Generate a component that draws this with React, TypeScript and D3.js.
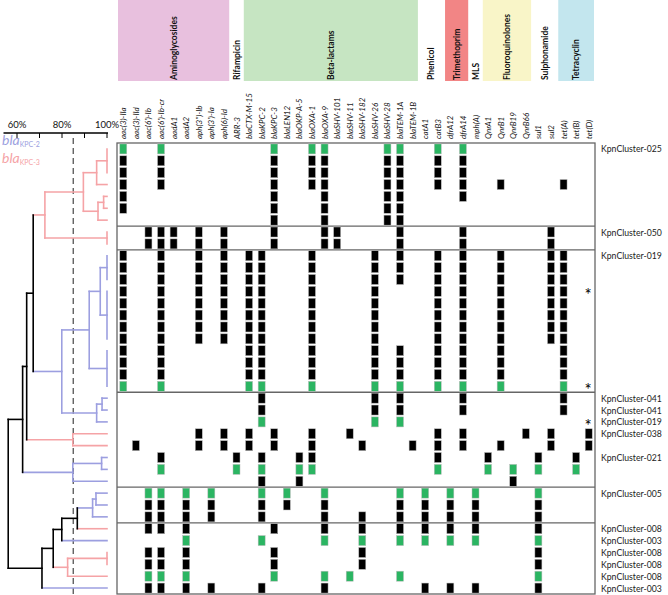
import React from 'react';
import * as d3 from 'd3';

// resistance genes, one column each
const genes = [
  'aac(3)-IIa', 'aac(3)-IId', "aac(6')-Ib", "aac(6')-Ib-cr", 'aadA1', 'aadA2', "aph(3'')-Ib", "aph(3')-Ia", 'aph(6)-Id',
  'ARR-3',
  'blaCTX-M-15', 'blaKPC-2', 'blaKPC-3', 'blaLEN12', 'blaOKP-A-5', 'blaOXA-1', 'blaOXA-9', 'blaSHV-101', 'blaSHV-11',
  'blaSHV-182', 'blaSHV-26', 'blaSHV-28', 'blaTEM-1A', 'blaTEM-1B',
  'catA1', 'catB3',
  'dfrA12', 'dfrA14',
  'mph(A)',
  'QnrA1', 'QnrB1', 'QnrB19', 'QnrB66',
  'sul1', 'sul2',
  'tet(A)', 'tet(B)', 'tet(D)'
];

const drugClasses = ['Aminoglycosides', 'Rifampicin', 'Beta-lactams', 'Phenicol', 'Trimethoprim', 'MLS', 'Fluoroquinolones', 'Sulphonamide', 'Tetracyclin'];
const classSizes = [9, 1, 14, 2, 2, 1, 4, 2, 3];

// presence of each gene per isolate, grouped by drug class
const rowProfiles = [
  '100100000 0 00100110000110 01 01 0 0000 00 000',
  '100100000 0 00100110000110 01 01 0 0000 00 000',
  '100100000 0 00100110000110 01 01 0 0000 00 000',
  '100100000 0 00100110000110 01 01 0 0100 00 100',
  '100000000 0 00100010000110 00 01 0 0000 00 000',
  '100000000 0 00100010000110 00 00 0 0000 00 000',
  '000000000 0 00100010000110 00 00 0 0000 00 000',
  '001110101 0 00100011000010 00 01 0 0000 01 000',
  '001110101 0 00100011000010 00 01 0 0000 01 000',
  '100100101 0 11000100001010 01 01 0 0100 01 100',
  '100100101 0 11000100001010 01 01 0 0100 01 100',
  '100100101 0 11000100001010 01 01 0 0100 01 100',
  '100100101 0 11000100001000 01 01 0 0100 01 100',
  '100100101 0 11000100001000 01 01 0 0100 01 100',
  '100100101 0 11000100001000 01 01 0 0100 01 100',
  '100100101 0 11000100001000 01 01 0 0100 01 100',
  '100100101 0 11000100001000 01 01 0 0100 01 100',
  '100100000 0 11000100001010 01 01 0 0100 00 100',
  '100100000 0 11000100001010 01 01 0 0100 00 100',
  '100100000 0 11000100001010 01 01 0 0100 00 100',
  '100100000 0 11000100001010 01 01 0 0100 00 100',
  '000000000 0 01000000001010 00 01 0 0000 00 100',
  '000000000 0 01000000001010 00 01 0 0000 00 100',
  '000000000 0 01000000001010 00 00 0 0000 00 000',
  '000000101 0 10100100100000 01 01 0 0001 01 001',
  '010000101 0 10100100010001 01 01 0 0100 01 001',
  '000100000 1 01001100000000 01 00 0 1000 10 010',
  '000100000 1 01001100000000 01 00 0 1010 10 010',
  '000000000 0 01001000000000 00 00 0 0010 00 000',
  '001101010 0 01010010000010 10 10 1 0000 10 000',
  '001101010 0 01010010000010 10 10 1 0000 10 000',
  '001101010 0 01000010010010 10 10 1 0000 10 000',
  '001101000 0 00100010010010 10 10 1 0000 10 000',
  '000001000 0 01000010010010 10 10 1 0000 10 000',
  '001101000 0 00100000010000 00 00 0 0000 10 000',
  '001101000 0 00100000010000 00 00 0 0000 10 000',
  '001101000 0 00100010100010 00 00 0 0000 10 000',
  '001101010 0 01000010000000 10 10 1 0000 10 000'
];

const referenceRows = [0, 20, 23, 27, 29, 33, 36];
// carbapenemase per isolate: 3 = blaKPC-3, 2 = blaKPC-2
const kpcType = '333333333' + '222222222222222' + '33' + '222222' + '3' + '2' + '333' + '2';
const clusterLabels = [
  'KpnCluster-025', '', '', '', '', '', '', 'KpnCluster-050', '', 'KpnCluster-019', '', '', '', '', '', '', '', '', '', '', '',
  'KpnCluster-041', 'KpnCluster-041', 'KpnCluster-019', 'KpnCluster-038', '', 'KpnCluster-021', '', '',
  'KpnCluster-005', '', '', 'KpnCluster-008', 'KpnCluster-003', 'KpnCluster-008', 'KpnCluster-008', 'KpnCluster-008', 'KpnCluster-003'
];
const starRows = [12, 20, 23];
const blockBreaks = [7, 9, 21, 29, 32];

// dendrogram merges: [children (rows 0-37, merge k = 38 + k), similarity %]
const merges: [number[], number][] = [
  [[0, 1, 2], 100],
  [[38, 3], 95.4],
  [[4, 5], 98.5],
  [[40, 6], 96],
  [[39, 41], 89.5],
  [[7, 8], 100],
  [[42, 43], 72.4],
  [[9, 10, 11], 100],
  [[12, 13, 14, 15, 16], 100],
  [[45, 46], 97],
  [[17, 18, 19, 20], 100],
  [[47, 48], 92.1],
  [[21, 22], 97.8],
  [[50, 23], 95.4],
  [[49, 51], 79.9],
  [[44, 52], 67.2],
  [[24, 25], 84.8],
  [[53, 54], 64.3],
  [[26, 27], 97.6],
  [[56, 28], 84.8],
  [[55, 57], 62.5],
  [[29, 30], 95.1],
  [[59, 31], 93.6],
  [[60, 32], 86.8],
  [[61, 33], 79.9],
  [[34, 35], 100],
  [[63, 36], 82.5],
  [[62, 64], 76.1],
  [[65, 37], 71.1],
  [[58, 66], 56.1]
];
const simTicks = [60, 70, 80, 90, 100];
const simLabels = [60, 80, 100];
const threshold = 85;

const classFill = ['#e8c0de', 'none', '#c6e5c2', 'none', '#f28585', 'none', '#f9f5c8', 'none', '#c3e6ee'];
const KPC_COLOR: Record<string, string> = { '3': '#f5a3a6', '2': '#9c9fe0', mix: '#000' };
const GREEN = '#2bb562';
const FONT = 'Lato, "Open Sans", sans-serif';

export default function App() {
  const nRows = rowProfiles.length;
  const matrix = rowProfiles.map((s) => s.replace(/ /g, '').split('').map(Number));

  const col = d3.scaleBand<number>().domain(d3.range(genes.length)).range([117, 595]);
  const row = d3.scaleBand<number>().domain(d3.range(nRows)).range([143, 594]);
  const sim = d3.scaleLinear().domain([60, 100]).range([17, 107]);
  const cc = (c: number) => (col(c) as number) + col.bandwidth() / 2;
  const rc = (r: number) => (row(r) as number) + row.bandwidth() / 2;

  // class spans
  const starts: number[] = [];
  classSizes.reduce((acc, n) => {
    starts.push(acc);
    return acc + n;
  }, 0);

  // dendrogram segments
  type Node = { x: number; y: number; kind: string };
  const nodes: Node[] = d3.range(nRows).map((r) => ({ x: sim(100), y: rc(r), kind: kpcType[r] }));
  const segs: { x1: number; x2: number; y1: number; y2: number; kind: string }[] = [];
  merges.forEach(([kids, s]) => {
    const ch = kids.map((k) => nodes[k]);
    const xN = sim(s);
    const kinds = new Set(ch.map((c) => c.kind));
    const kind = kinds.size === 1 ? ch[0].kind : 'mix';
    const ys = ch.map((c) => c.y);
    const y0 = Math.min(...ys);
    const y1 = Math.max(...ys);
    ch.forEach((c) => {
      if (c.x > xN + 0.01) segs.push({ x1: xN, x2: c.x, y1: c.y, y2: c.y, kind: c.kind });
    });
    segs.push({ x1: xN, x2: xN, y1: y0, y2: y1, kind });
    nodes.push({ x: xN, y: (y0 + y1) / 2, kind });
  });

  const cellW = 7;
  const cellH = 10;

  return (
    <svg width={668} height={595} style={{ position: 'absolute', left: 0, top: 0, background: '#fff' }} fontFamily={FONT}>
      {/* drug class header */}
      {drugClasses.map((name, i) => {
        const x0 = col(starts[i]) as number;
        const x1 = (col(starts[i] + classSizes[i] - 1) as number) + col.bandwidth();
        const xm = (x0 + x1) / 2;
        return (
          <g key={name}>
            {classFill[i] !== 'none' && <rect x={x0 + 1} y={0} width={x1 - x0 - 2} height={81} fill={classFill[i]} />}
            <text
              transform={`translate(${xm + 3},80) rotate(-90)`}
              textAnchor="start"
              fontSize={8.5}
              fontWeight={700}
              fill="#111"
            >
              {name}
            </text>
          </g>
        );
      })}

      {/* gene labels */}
      {genes.map((g, c) => (
        <text
          key={g}
          transform={`translate(${cc(c) + 3},139) rotate(-90)`}
          fontSize={8}
          fontStyle="italic"
          fill="#111"
        >
          {g}
        </text>
      ))}

      {/* grid frame and block separators */}
      <rect x={117} y={143} width={478} height={451} fill="none" stroke="#666" strokeWidth={1.3} />
      {blockBreaks.map((b) => (
        <line key={b} x1={117} x2={595} y1={row(b)} y2={row(b)} stroke="#666" strokeWidth={1.3} />
      ))}

      {/* presence cells */}
      {matrix.map((vals, r) =>
        vals.map((v, c) =>
          v ? (
            <rect
              key={`${r}-${c}`}
              x={cc(c) - cellW / 2}
              y={rc(r) - cellH / 2}
              width={cellW}
              height={cellH}
              fill={referenceRows.includes(r) ? GREEN : '#000'}
              stroke="#bbb"
              strokeWidth={0.5}
            />
          ) : null
        )
      )}

      {/* stars and cluster labels */}
      {starRows.map((r) => (
        <text key={r} x={588} y={rc(r) + 10} textAnchor="middle" fontSize={17} fill="#000">
          *
        </text>
      ))}
      {clusterLabels.map((l, r) =>
        l ? (
          <text key={r} x={601} y={rc(r) + 3.5} fontSize={8.7} fill="#222">
            {l}
          </text>
        ) : null
      )}

      {/* similarity axis */}
      <line x1={sim(54)} x2={sim(100) + 1} y1={133} y2={133} stroke="#000" strokeWidth={1.3} />
      {simTicks.map((t) => (
        <line key={t} x1={sim(t)} x2={sim(t)} y1={133} y2={138} stroke="#000" strokeWidth={1} />
      ))}
      {simLabels.map((t) => (
        <text key={t} x={sim(t)} y={128} textAnchor="middle" fontSize={9.5} fill="#111">
          {t}%
        </text>
      ))}
      <line x1={sim(threshold)} x2={sim(threshold)} y1={138} y2={595} stroke="#555" strokeWidth={1.3} strokeDasharray="6,4" />

      {/* dendrogram */}
      {segs.map((s, i) => (
        <line
          key={i}
          x1={s.x1}
          x2={s.x2}
          y1={s.y1}
          y2={s.y2}
          stroke={KPC_COLOR[s.kind]}
          strokeWidth={1.6}
          strokeLinecap="square"
        />
      ))}

      {/* KPC legend */}
      <text x={2} y={145} fontSize={14} fontStyle="italic" fill={KPC_COLOR['2']}>
        bla<tspan fontSize={7} fontStyle="normal" dy={2}>KPC-2</tspan>
      </text>
      <text x={2} y={163} fontSize={14} fontStyle="italic" fill={KPC_COLOR['3']}>
        bla<tspan fontSize={7} fontStyle="normal" dy={2}>KPC-3</tspan>
      </text>
    </svg>
  );
}
